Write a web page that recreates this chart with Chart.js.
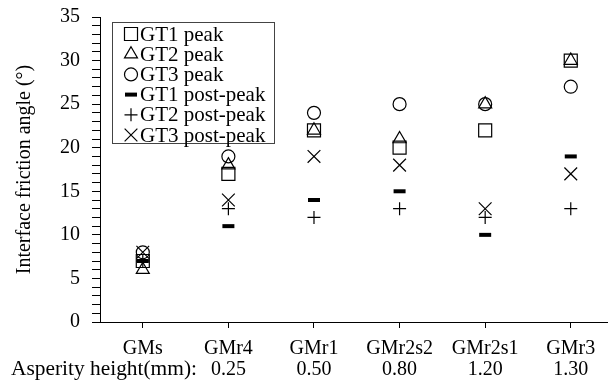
<!DOCTYPE html>
<html>
<head>
<meta charset="utf-8">
<script src="https://cdn.jsdelivr.net/npm/chart.js@4.4.0/dist/chart.umd.min.js"></script>
<style>
  html, body { margin: 0; padding: 0; background: #fff; }
</style>
</head>
<body>
<canvas id="canvas" width="608" height="389"></canvas>
<script>
var categories = ['GMs', 'GMr4', 'GMr1', 'GMr2s2', 'GMr2s1', 'GMr3'];
var heights = ['', '0.25', '0.50', '0.80', '1.20', '1.30'];
var gt1Peak = [7, 17, 22, 20, 22, 30];
var gt2Peak = [6, 18, 22, 21, 25, 30];
var gt3Peak = [8, 19, 24, 25, 25, 27];
var gt1Post = [7, 11, 14, 15, 10, 19];
var gt2Post = [7, 13, 12, 13, 12, 13];
var gt3Post = [8, 14, 19, 18, 13, 17];
var yTicks = [0, 5, 10, 15, 20, 25, 30, 35];

var serif = '"Liberation Serif", "Times New Roman", serif';

function pts(vals) {
    return vals.map(function (v, i) { return { x: i, y: v }; });
}

function series(label, vals, style, radius, bw) {
    return {
        label: label,
        data: pts(vals),
        pointStyle: style,
        pointRadius: radius,
        pointHoverRadius: radius,
        pointBorderWidth: bw,
        pointBorderColor: '#000',
        pointBackgroundColor: 'rgba(0,0,0,0)',
        borderColor: '#000',
        backgroundColor: 'rgba(0,0,0,0)',
        showLine: false
    };
}

var datasets = [
    series('GT1 peak', gt1Peak, 'rect', 9.2, 1.2),
    series('GT2 peak', gt2Peak, 'triangle', 7.5, 1.2),
    series('GT3 peak', gt3Peak, 'circle', 6.5, 1.2),
    series('GT1 post-peak', gt1Post, 'line', 6, 4),
    series('GT2 post-peak', gt2Post, 'cross', 6.5, 1.2),
    series('GT3 post-peak', gt3Post, 'crossRot', 9, 1.2)
];

// legend box drawn inside the plot, plus the "Asperity height" row label
const boxLegend = {
    id: 'boxLegend',
    afterDraw(chart) {
        const ctx = chart.ctx;
        ctx.save();
        ctx.strokeStyle = '#444';
        ctx.lineWidth = 1;
        ctx.strokeRect(112.5, 22.5, 162, 121);
        ctx.font = '21px ' + serif;
        ctx.textBaseline = 'middle';
        ctx.fillStyle = '#000';
        chart.data.datasets.forEach(function (ds, i) {
            var y = 34 + i * 20.2;
            ctx.strokeStyle = '#000';
            ctx.fillStyle = 'rgba(0,0,0,0)';
            ctx.lineWidth = ds.pointBorderWidth;
            Chart.helpers.drawPoint(ctx, {
                pointStyle: ds.pointStyle,
                radius: ds.pointRadius,
                borderWidth: ds.pointBorderWidth,
                rotation: 0
            }, 131, y);
            ctx.fillStyle = '#000';
            ctx.fillText(ds.label, 140, y + 1);
        });
        ctx.font = '21.4px ' + serif;
        ctx.textAlign = 'left';
        ctx.fillText('Asperity height(mm):', 11, 369);
        ctx.restore();
    }
};

var ctx = document.getElementById('canvas').getContext('2d');
var myChart = new Chart(ctx, {
    type: 'scatter',
    data: { datasets: datasets },
    options: {
        responsive: false,
        animation: false,
        layout: { autoPadding: false, padding: { top: 17, right: 0, left: 0, bottom: 0 } },
        plugins: {
            legend: { display: false },
            tooltip: { enabled: false }
        },
        scales: {
            x: {
                type: 'linear',
                min: -0.5,
                max: 5.435,
                afterFit: function (scale) {
                    scale.height = 67;
                    scale.paddingLeft = 0;
                    scale.paddingRight = 0;
                },
                afterBuildTicks: function (scale) {
                    scale.ticks = categories.map(function (c, i) { return { value: i }; });
                },
                border: { display: true, color: '#000', width: 1 },
                grid: {
                    display: true,
                    drawOnChartArea: false,
                    drawTicks: true,
                    tickLength: 6,
                    color: '#000'
                },
                ticks: {
                    color: '#000',
                    padding: 10,
                    maxRotation: 0,
                    autoSkip: false,
                    font: { family: serif, size: 20, lineHeight: 1.05 },
                    callback: function (v) {
                        return [categories[v], heights[v]];
                    }
                }
            },
            y: {
                min: 0,
                max: 35,
                afterFit: function (scale) {
                    scale.width = 100;
                    scale.paddingTop = 0;
                    scale.paddingBottom = 0;
                },
                border: { display: true, color: '#000', width: 1 },
                grid: {
                    display: true,
                    drawOnChartArea: false,
                    drawTicks: true,
                    tickLength: 8,
                    color: '#000'
                },
                title: {
                    display: true,
                    text: 'Interface friction angle (°)',
                    color: '#000',
                    font: { family: serif, size: 20 },
                    padding: { top: 13, bottom: 0 }
                },
                ticks: {
                    stepSize: 1,
                    autoSkip: false,
                    color: '#000',
                    padding: 12,
                    font: { family: serif, size: 20 },
                    callback: function (v) {
                        return yTicks.indexOf(v) >= 0 ? String(v) : '';
                    }
                }
            }
        }
    },
    plugins: [boxLegend]
});
</script>
</body>
</html>
